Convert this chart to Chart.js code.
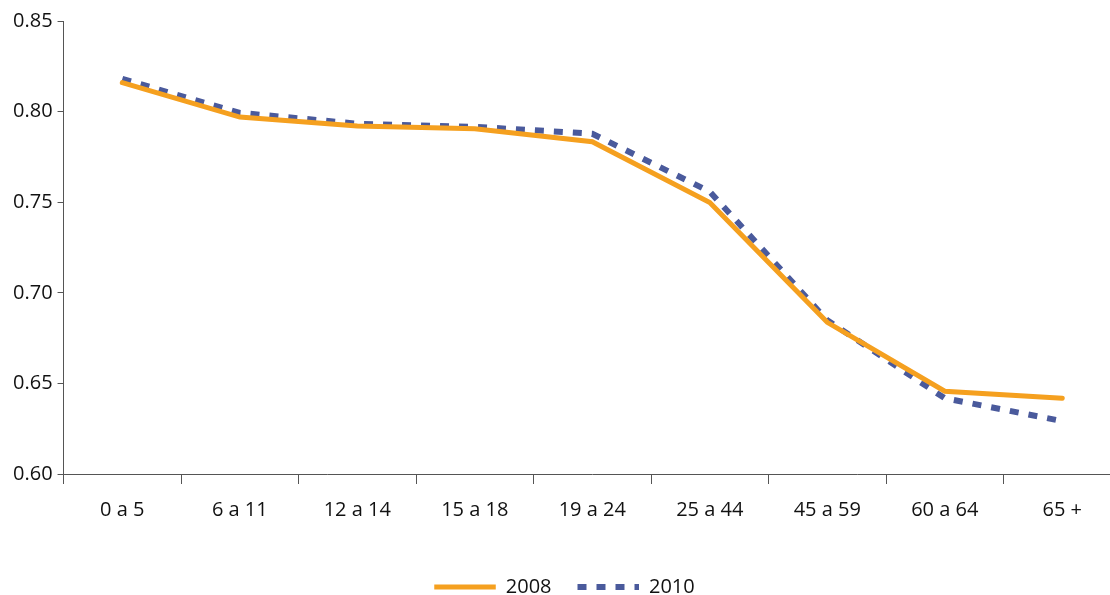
<!DOCTYPE html>
<html>
<head>
<meta charset="utf-8">
<script src="https://cdn.jsdelivr.net/npm/chart.js@4/dist/chart.umd.min.js"></script>
<style>
  html, body { margin: 0; padding: 0; background: #fff; overflow: hidden; }
  #wrap { width: 1125px; height: 595px; position: relative; }
</style>
</head>
<body>
<div id="wrap"><canvas id="c"></canvas></div>
<script>
// age groups
var categories = ["0 a 5", "6 a 11", "12 a 14", "15 a 18", "19 a 24", "25 a 44", "45 a 59", "60 a 64", "65 +"];
var series2008 = [0.816, 0.797, 0.792, 0.7905, 0.7834, 0.7498, 0.6837, 0.6457, 0.6418];
var series2010 = [0.818, 0.7993, 0.7933, 0.7916, 0.7878, 0.7558, 0.6848, 0.6418, 0.6292];
var yTicks = [0.60, 0.65, 0.70, 0.75, 0.80, 0.85];

var font = { family: "Open Sans", size: 20 };
var axisColor = "#555";

var ctx = document.getElementById("c").getContext("2d");
new Chart(ctx, {
    type: "line",
    data: {
        labels: categories,
        datasets: [
            {
                label: "2008",
                data: series2008,
                borderColor: "#f5a01f",
                backgroundColor: "#f5a01f",
                borderWidth: 5,
                borderCapStyle: "round",
                pointRadius: 0,
                tension: 0
            },
            {
                label: "2010",
                data: series2010,
                borderColor: "#4a5a9c",
                backgroundColor: "#4a5a9c",
                borderWidth: 6,
                borderDash: [9, 10],
                borderCapStyle: "butt",
                pointRadius: 0,
                tension: 0
            }
        ]
    },
    options: {
        responsive: true,
        maintainAspectRatio: false,
        animation: false,
        layout: { padding: { top: 21, right: 4, left: 8, bottom: -12 } },
        plugins: {
            tooltip: { enabled: false },
            legend: {
                position: "bottom",
                labels: {
                    boxWidth: 61.5,
                    boxHeight: 0,
                    color: "#111",
                    font: font,
                    padding: 26
                }
            }
        },
        scales: {
            x: {
                offset: true,
                afterFit: function (axis) { axis.height += 15; },
                grid: {
                    display: true,
                    offset: true,
                    drawOnChartArea: false,
                    drawTicks: true,
                    tickLength: 10,
                    color: axisColor
                },
                border: { display: true, color: axisColor, width: 1 },
                ticks: { color: "#111", font: font, padding: 14, maxRotation: 0, autoSkip: false }
            },
            y: {
                min: 0.60,
                max: 0.85,
                afterBuildTicks: function (axis) {
                    axis.ticks = yTicks.map(function (v) { return { value: v }; });
                },
                grid: {
                    display: true,
                    drawOnChartArea: false,
                    drawTicks: true,
                    tickLength: 6,
                    color: axisColor
                },
                border: { display: true, color: axisColor, width: 1 },
                ticks: {
                    color: "#111",
                    font: font,
                    padding: 5,
                    callback: function (v) { return Number(v).toFixed(2); }
                }
            }
        }
    }
});
</script>
</body>
</html>
